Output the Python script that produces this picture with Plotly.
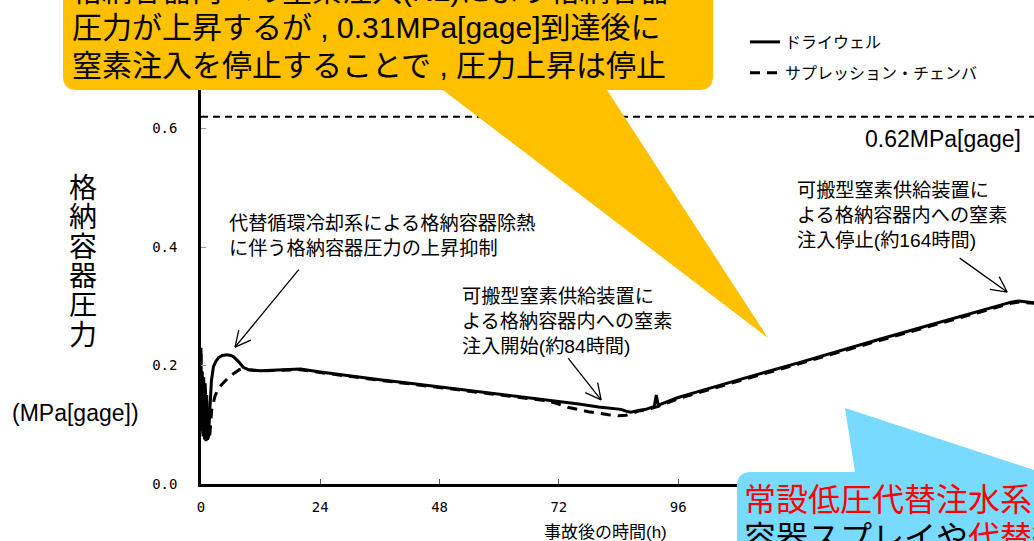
import math
import plotly.graph_objects as go

# ---------------- data ----------------
dw_time = [0.0, 0.1, 0.25, 0.4, 0.55, 0.7, 0.85, 1.0, 1.15, 1.3, 1.5, 1.8, 2.1, 2.5,
           3.0, 3.5, 4.3, 5.2, 6.0, 6.5, 7.5, 8.5, 9.5, 12, 16, 20, 24, 30, 36, 42,
           48, 54, 60, 66, 72, 76, 80, 83, 84.5, 85.5, 86.5, 88, 89.5, 91.2, 91.6,
           92.0, 94, 96, 100, 104, 108, 112, 120, 128, 136, 144, 152, 160, 163,
           164.5, 166, 167.6]
dw_pressure = [0.23, 0.09, 0.19, 0.08, 0.18, 0.075, 0.17, 0.072, 0.15, 0.075, 0.08,
               0.14, 0.175, 0.198, 0.207, 0.213, 0.217, 0.218, 0.217, 0.215, 0.207,
               0.197, 0.193, 0.191, 0.192, 0.194, 0.189, 0.182, 0.176, 0.170, 0.164,
               0.158, 0.152, 0.146, 0.139, 0.135, 0.130, 0.127, 0.126, 0.123, 0.121,
               0.124, 0.126, 0.131, 0.150, 0.133, 0.140, 0.146, 0.156, 0.166, 0.175,
               0.185, 0.204, 0.224, 0.243, 0.262, 0.281, 0.300, 0.307, 0.309, 0.308,
               0.306]

ww_time = [0.0, 0.1, 0.25, 0.4, 0.55, 0.7, 0.85, 1.0, 1.15, 1.3, 1.5, 1.8, 2.15, 2.8,
           3.5, 4.8, 5.8, 7.7, 8.5, 9.5, 12, 16, 20, 24, 30, 36, 42, 48, 54, 60, 66,
           70, 74, 78, 82, 84, 85.5, 87, 88, 89.5, 92, 96, 100, 104, 108, 112, 120,
           128, 136, 144, 152, 160, 163, 164.5, 166, 167.6]
ww_pressure = [0.22, 0.1, 0.18, 0.085, 0.17, 0.08, 0.16, 0.075, 0.14, 0.078, 0.074,
               0.085, 0.125, 0.148, 0.162, 0.173, 0.182, 0.193, 0.195, 0.193, 0.191,
               0.192, 0.193, 0.188, 0.181, 0.175, 0.169, 0.163, 0.157, 0.151, 0.145,
               0.140, 0.129, 0.122, 0.117, 0.115, 0.116, 0.121, 0.123, 0.125, 0.131,
               0.144, 0.154, 0.164, 0.173, 0.183, 0.202, 0.222, 0.241, 0.260, 0.279,
               0.298, 0.305, 0.307, 0.306, 0.305]

series_names = ["ドライウェル", "サプレッション・チェンバ"]
limit_pressure = 0.62
limit_label = "0.62MPa[gage]"

x_tick_vals = [0, 24, 48, 72, 96]
y_tick_vals = [0.0, 0.2, 0.4, 0.6]
y_tick_text = ["0.0", "0.2", "0.4", "0.6"]

y_title_chars = ["格", "納", "容", "器", "圧", "力"]
y_title_unit = "(MPa[gage])"
x_title = "事故後の時間(h)"

note_1 = "代替循環冷却系による格納容器除熱<br>に伴う格納容器圧力の上昇抑制"
note_2 = "可搬型窒素供給装置に<br>よる格納容器内への窒素<br>注入開始(約84時間)"
note_3 = "可搬型窒素供給装置に<br>よる格納容器内への窒素<br>注入停止(約164時間)"
yellow_lines = ["格納容器内への窒素注入(N2)により格納容器",
                "圧力が上昇するが , 0.31MPa[gage]到達後に",
                "窒素注入を停止することで , 圧力上昇は停止"]
blue_lines = ['<span style="color:#FF0000">常設低圧代替注水系</span>による格納',
              '容器スプレイや<span style="color:#FF0000">代替循環冷却系</span>']

# arrow tips (data coords) and tail offsets (px)
arrows = [((6.84, 0.231), (65, -79)),
          ((80.5, 0.142), (-34, -43)),
          ((162.2, 0.324), (-49, -35))]

# ---------------- layout geometry ----------------
W, H = 1034, 541
PL, PT, PB = 201, 10, 484
PR = W
PW, PH = PR - PL, PB - PT
X_MAX, Y_MAX = 167.6, 0.8

JP = "Liberation Sans, Noto Sans CJK JP, sans-serif"


def pp(px, py):
    return (px - PL) / PW, (PB - py) / PH


def path(points):
    out = []
    for cmd, coords in points:
        if cmd == "Z":
            out.append("Z")
        elif cmd == "Q":
            out.append("Q" + " ".join("%.5f,%.5f" % pp(*c) for c in coords))
        else:
            for c in coords:
                out.append(cmd + "%.5f,%.5f" % pp(*c))
    return " ".join(out)


fig = go.Figure()
fig.add_trace(go.Scatter(x=dw_time, y=dw_pressure, mode="lines", name=series_names[0],
                         line=dict(color="black", width=3), legendgroup="a"))
fig.add_trace(go.Scatter(x=ww_time, y=ww_pressure, mode="lines", name=series_names[1],
                         line=dict(color="black", width=3, dash="10px,7px"), legendgroup="b"))

fig.add_hline(y=limit_pressure, line=dict(color="black", width=2, dash="7px,5px"))

shapes = []
# top frame line
shapes.append(dict(type="line", xref="paper", yref="paper", x0=0, x1=1, y0=1, y1=1,
                   line=dict(color="black", width=2), layer="above"))
r = 14
yellow = path([("M", [(63, -80)]), ("L", [(713, -80), (713, 90 - r)]),
               ("Q", [(713, 90), (713 - r, 90)]),
               ("L", [(607, 90), (768, 338), (443, 90), (63 + r, 90)]),
               ("Q", [(63, 90), (63, 90 - r)]), ("Z", None)])
shapes.append(dict(type="path", xref="paper", yref="paper", path=yellow,
                   fillcolor="#FFC000", line=dict(width=0), layer="above"))
blue = path([("M", [(737, 620)]), ("L", [(737, 472 + r)]),
             ("Q", [(737, 472), (737 + r, 472)]),
             ("L", [(855, 472), (845, 408), (1040, 472), (1100, 472), (1100, 620)]),
             ("Z", None)])
shapes.append(dict(type="path", xref="paper", yref="paper", path=blue,
                   fillcolor="#78DAFF", line=dict(width=0), layer="above"))

ann = []


def txt(px, py, text, size, xanchor="left", yanchor="middle", color="black", align="left", family=JP):
    x, y = pp(px, py)
    ann.append(dict(xref="paper", yref="paper", x=x, y=y, text=text, showarrow=False,
                    xanchor=xanchor, yanchor=yanchor, align=align,
                    font=dict(family=family, size=size, color=color)))


# y title
for i, ch in enumerate(y_title_chars):
    txt(83, 188.5 + i * 29.3, ch, 28, xanchor="center")
txt(75, 413, y_title_unit, 23, xanchor="center")
txt(605, 532, x_title, 17, xanchor="center")

# limit label
txt(1023, 139, limit_label, 23, xanchor="right")

# notes
txt(227, 235.5, note_1, 19.2)
txt(460, 321, note_2, 19.2)
txt(795, 215, note_3, 19.2)

# yellow callout text
for i, line in enumerate(yellow_lines):
    txt(70, -9.5 + i * 37.5, line, 30)
# blue callout text
for i, line in enumerate(blue_lines):
    txt(742, 500 + i * 38, line, 32)

# arrows with open heads
BARB, ANG = 19, math.radians(27)
for (tx, ty), (ax, ay) in arrows:
    ann.append(dict(x=tx, y=ty, xref="x", yref="y", ax=ax, ay=ay, text="", showarrow=True,
                    arrowhead=0, arrowwidth=1.3, arrowcolor="black"))
    n = math.hypot(ax, ay)
    ux, uy = ax / n, ay / n
    for s in (1, -1):
        c, si = math.cos(s * ANG), math.sin(s * ANG)
        bx, by = BARB * (ux * c - uy * si), BARB * (ux * si + uy * c)
        ann.append(dict(x=tx, y=ty, xref="x", yref="y", ax=bx, ay=by, text="", showarrow=True,
                        arrowhead=0, arrowwidth=1.3, arrowcolor="black"))

fig.update_layout(
    width=W, height=H,
    margin=dict(l=PL, r=W - PR, t=PT, b=H - PB, pad=0),
    paper_bgcolor="white", plot_bgcolor="white",
    shapes=shapes, annotations=ann,
    showlegend=True,
    legend=dict(x=(745 - PL) / PW, y=(PB - 25) / PH, xanchor="left", yanchor="top",
                bgcolor="rgba(0,0,0,0)", borderwidth=0, tracegroupgap=7,
                font=dict(family=JP, size=16, color="black")),
    xaxis=dict(range=[0, X_MAX], tickvals=x_tick_vals, ticks="inside", ticklen=5,
               tickcolor="#555", tickwidth=1, showgrid=False, zeroline=False,
               showline=True, linecolor="black", linewidth=2.5,
               tickfont=dict(family="DejaVu Sans Mono", size=14, color="black"),
               ticklabelstandoff=8),
    yaxis=dict(range=[0, Y_MAX], tickvals=y_tick_vals, ticktext=y_tick_text,
               ticks="inside", ticklen=5, tickcolor="#999", tickwidth=1,
               showgrid=False, zeroline=False, showline=True, linecolor="black",
               linewidth=2.5,
               tickfont=dict(family="DejaVu Sans Mono", size=14, color="black"),
               ticklabelstandoff=18),
)

fig.write_html("out.html", config={"displayModeBar": False},
               post_script="document.body.style.margin='0';document.body.style.overflow='hidden';")
